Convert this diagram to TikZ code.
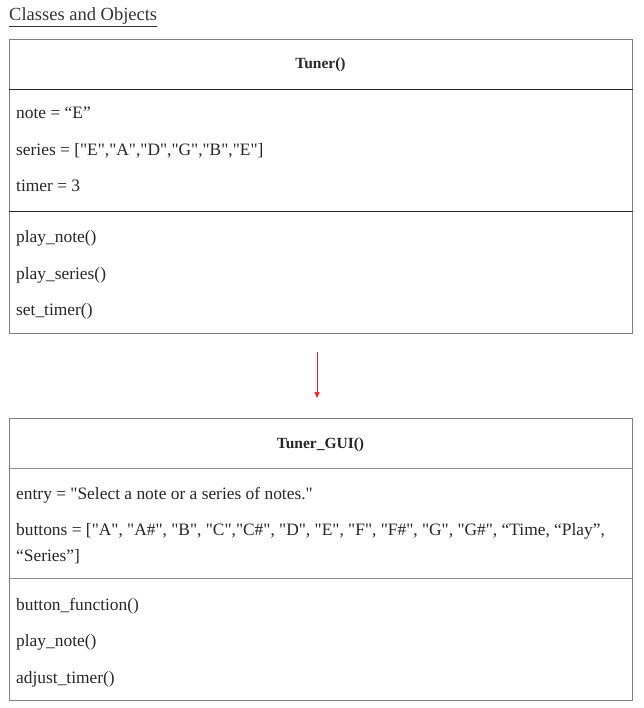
\documentclass[tikz,border=0pt]{standalone}
\usepackage{fontspec}
\setmainfont{Liberation Serif}
\usetikzlibrary{arrows.meta}
\newcommand{\dq}{\textquotedbl}
\begin{document}
\begin{tikzpicture}[x=1pt,y=-1pt,
  box/.style={draw=black!50, line width=0.8pt, rectangle, anchor=north west, inner sep=0pt},
  sep1/.style={draw=black!85, line width=0.8pt},
  sep2/.style={draw=black!45, line width=0.8pt},
  txt/.style={anchor=base west, inner sep=0pt, font=\fontsize{17.4}{20}\selectfont, text=black!85},
  ttl/.style={anchor=base, inner sep=0pt, font=\fontsize{15.5}{19}\selectfont\bfseries, text=black!85},
  link/.style={draw=red!90, line width=0.6pt, -{Triangle[length=6pt,width=5pt]}}
]
\useasboundingbox (0,0) rectangle (643,708);
\node[anchor=base west, inner sep=0pt, font=\fontsize{18.5}{20}\selectfont, text=black!80] (head) at (9,21) {\underline{Classes and Objects}};

% Box 1
\node[box, minimum width=623pt, minimum height=294pt] (t) at (9,39) {};
\draw[sep1] (t.west |- 0,89) coordinate (t1a) -- (t.east |- 0,89) coordinate (t1b);
\draw[sep1] (t.west |- 0,211) coordinate (t2a) -- (t.east |- 0,211) coordinate (t2b);
\node[ttl] (ttitle) at (320.5,69) {Tuner()};
\node[txt] (a1) at (16,119) {note = “E”};
\node[txt] (a2) at (16,156) {series = [\dq E\dq,\dq A\dq,\dq D\dq,\dq G\dq,\dq B\dq,\dq E\dq]};
\node[txt] (a3) at (16,192) {timer = 3};
\node[txt] (m1) at (16,243) {play\_note()};
\node[txt] (m2) at (16,279) {play\_series()};
\node[txt] (m3) at (16,315) {set\_timer()};

% Box 2
\node[box, minimum width=623pt, minimum height=282pt] (g) at (9,418) {};
\draw[sep2] (g.west |- 0,468) coordinate (g1a) -- (g.east |- 0,468) coordinate (g1b);
\draw[sep2] (g.west |- 0,578) coordinate (g2a) -- (g.east |- 0,578) coordinate (g2b);
\node[ttl] (gtitle) at (320.5,448) {Tuner\_GUI()};
\node[txt] (b1) at (16,499) {entry = \dq Select a note or a series of notes.\dq};
\node[txt] (b2) at (16,535) {buttons = [\dq A\dq, \dq A\#\dq, \dq B\dq, \dq C\dq,\dq C\#\dq, \dq D\dq, \dq E\dq, \dq F\dq, \dq F\#\dq, \dq G\dq, \dq G\#\dq, “Time, “Play”,};
\node[txt] (b3) at (16,561) {“Series”]};
\node[txt] (n1) at (16,610) {button\_function()};
\node[txt] (n2) at (16,646) {play\_note()};
\node[txt] (n3) at (16,683) {adjust\_timer()};

\draw[link, shorten <=18pt, shorten >=20pt] (t.south -| 317,0) -- (g.north -| 317,0);
\end{tikzpicture}
\end{document}
